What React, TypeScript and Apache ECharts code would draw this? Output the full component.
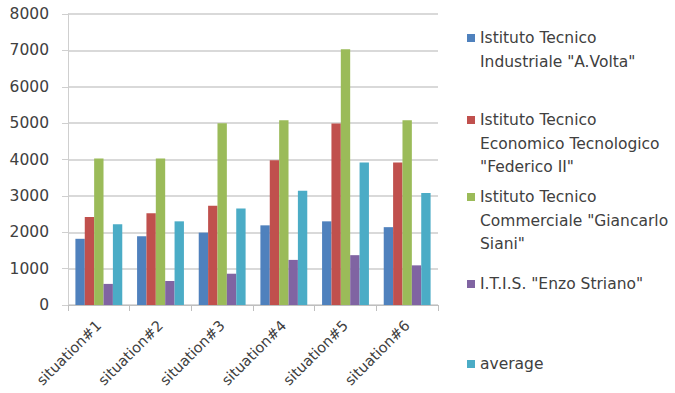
import React, { useEffect, useRef } from "react";
import * as echarts from "echarts";

// Categories along the x axis
const situations = ["situation#1", "situation#2", "situation#3", "situation#4", "situation#5", "situation#6"];

// Y axis range
const yMin = 0;
const yMax = 8000;
const yStep = 1000;

// Series names and values per situation
const seriesNames = [
  'Istituto Tecnico Industriale "A.Volta"',
  'Istituto Tecnico Economico Tecnologico "Federico II"',
  'Istituto Tecnico Commerciale "Giancarlo Siani"',
  'I.T.I.S. "Enzo Striano"',
  "average",
];

const voltaValues = [1820, 1890, 1990, 2190, 2300, 2140];
const federicoValues = [2420, 2520, 2730, 3980, 4990, 3920];
const sianiValues = [4030, 4030, 5000, 5080, 7030, 5080];
const strianoValues = [580, 660, 860, 1240, 1370, 1090];
const averageValues = [2220, 2300, 2650, 3140, 3920, 3080];

// Legend text, wrapped as it is laid out beside the plot
const legendLines = [
  ["Istituto Tecnico", 'Industriale "A.Volta"'],
  ["Istituto Tecnico", "Economico Tecnologico", '"Federico II"'],
  ["Istituto Tecnico", 'Commerciale "Giancarlo', 'Siani"'],
  ['I.T.I.S. "Enzo Striano"'],
  ["average"],
];

const colors = ["#4F81BD", "#C0504D", "#9BBB59", "#8064A2", "#4BACC6"];

const FONT = "DejaVu Sans";
const TEXT_COLOR = "#404040";
const FONT_SIZE = 15.5;
const LINE_H = 23.5;

// Vertical centre of each legend marker (aligned with the first text line)
const legendIconY = [38, 120, 197, 284, 364];

export default function App() {
  const ref = useRef<HTMLDivElement>(null);

  useEffect(() => {
    if (!ref.current) return;
    const chart = echarts.init(ref.current, undefined, { renderer: "svg" });

    const allValues = [voltaValues, federicoValues, sianiValues, strianoValues, averageValues];

    // Legend text is centred on its marker, so empty lines are put in front
    // of multi-line labels to keep the marker beside the first line.
    const legends = seriesNames.map((name, i) => {
      const n = legendLines[i].length;
      const blank = Array(n - 1).fill("");
      return {
        data: [name],
        orient: "vertical",
        left: 467,
        top: legendIconY[i] - ((2 * n - 1) * LINE_H) / 2,
        padding: 0,
        icon: "rect",
        itemWidth: 8,
        itemHeight: 8,
        itemGap: 0,
        selectedMode: false,
        formatter: () => [...blank, ...legendLines[i]].join("\n"),
        textStyle: {
          fontFamily: FONT,
          fontSize: FONT_SIZE,
          lineHeight: LINE_H,
          color: TEXT_COLOR,
        },
      };
    });

    chart.setOption({
      animation: false,
      backgroundColor: "#ffffff",
      color: colors,
      textStyle: { fontFamily: FONT },
      legend: legends,
      grid: { left: 68, right: 237, top: 14, bottom: 88, containLabel: false, outerBoundsMode: "none" },
      xAxis: {
        type: "category",
        data: situations,
        axisLine: { show: true, lineStyle: { color: "#bfbfbf", width: 1 } },
        axisTick: { show: true, length: 6, lineStyle: { color: "#bfbfbf" } },
        axisLabel: {
          rotate: 45,
          margin: 18,
          fontFamily: FONT,
          fontSize: 14.5,
          color: TEXT_COLOR,
          interval: 0,
        },
      },
      yAxis: {
        type: "value",
        min: yMin,
        max: yMax,
        interval: yStep,
        axisLine: { show: true, lineStyle: { color: "#cfcfcf", width: 1 } },
        axisTick: { show: true, length: 6, lineStyle: { color: "#cfcfcf" } },
        splitLine: { show: true, lineStyle: { color: "#cccccc", width: 1.5 } },
        axisLabel: {
          margin: 19,
          fontFamily: FONT,
          fontSize: FONT_SIZE,
          color: TEXT_COLOR,
          formatter: (v: number) => String(v),
        },
      },
      series: seriesNames.map((name, i) => ({
        name,
        type: "bar",
        data: allValues[i],
        barGap: "0%",
        barCategoryGap: "24%",
        itemStyle: { color: colors[i] },
      })),
    });

    return () => chart.dispose();
  }, []);

  return (
    <div
      ref={ref}
      style={{ position: "fixed", left: 0, top: 0, width: 675, height: 393, background: "#fff" }}
    />
  );
}
